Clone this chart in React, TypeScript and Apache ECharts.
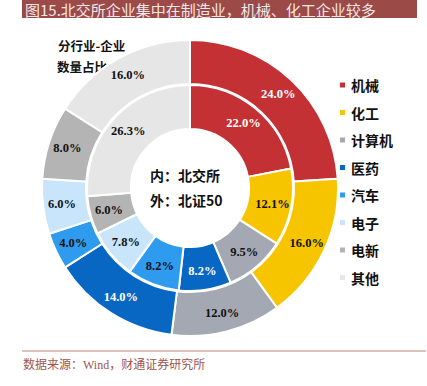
import React, { useEffect, useRef } from "react";
import * as echarts from "echarts";

const categories = ["机械", "化工", "计算机", "医药", "汽车", "电子", "电新", "其他"];
const outerValues = [24.0, 16.0, 12.0, 14.0, 4.0, 6.0, 8.0, 16.0];
const innerValues = [22.0, 12.1, 9.5, 8.2, 8.2, 7.8, 6.0, 26.3];
const colors = ["#C43134", "#F7C400", "#A4A8B2", "#0867C3", "#2E9BEF", "#C9E5FC", "#B4B4B4", "#E6E6E6"];
const whiteLabel = ["机械", "医药"];

const titleText = "图15.北交所企业集中在制造业，机械、化工企业较多";
const sourceText = "数据来源：Wind，财通证券研究所";

export default function App() {
  const ref = useRef<HTMLDivElement>(null);
  useEffect(() => {
    if (!ref.current) return;
    const chart = echarts.init(ref.current, null, { renderer: "svg" });
    const mk = (vals: number[]) =>
      categories.map((name, i) => ({
        name,
        value: vals[i],
        itemStyle: { color: colors[i] },
        label: { color: whiteLabel.includes(name) ? "#ffffff" : "#111111" },
      }));
    const labelCommon = {
      show: true,
      position: "inside",
      fontFamily: "Liberation Serif",
      fontWeight: "bold",
      fontSize: 12.5,
      formatter: (p: any) => Number(p.value).toFixed(1) + "%",
    };
    chart.setOption({
      animation: false,
      legend: {
        orient: "vertical",
        left: 333,
        top: 73,
        icon: "rect",
        itemWidth: 7,
        itemHeight: 7,
        itemGap: 13.5,
        selectedMode: false,
        data: categories,
        textStyle: {
          fontFamily: "Noto Sans CJK SC",
          fontWeight: "bold",
          fontSize: 14,
          lineHeight: 14,
          color: "#111111",
        },
      },
      series: [
        {
          name: "北交所",
          type: "pie",
          center: [190, 188],
          radius: [59, 103],
          startAngle: 90,
          clockwise: true,
          avoidLabelOverlap: false,
          silent: true,
          itemStyle: { borderColor: "#ffffff", borderWidth: 2 },
          label: labelCommon,
          labelLine: { show: false },
          data: mk(innerValues),
        },
        {
          name: "北证50",
          type: "pie",
          center: [190, 188],
          radius: [104, 148],
          startAngle: 90,
          clockwise: true,
          avoidLabelOverlap: false,
          silent: true,
          itemStyle: { borderColor: "#ffffff", borderWidth: 2 },
          label: labelCommon,
          labelLine: { show: false },
          data: mk(outerValues),
        },
      ],
      graphic: [
        { type: "rect", shape: { x: 22, y: 0, width: 395, height: 18 }, style: { fill: "#9C4A47" } },
        {
          type: "text",
          x: 25,
          y: 2,
          style: {
            text: titleText,
            fill: "#F3E8E8",
            fontFamily: "Noto Sans CJK SC",
            fontSize: 15,
            lineHeight: 15,
            textVerticalAlign: "top",
          },
        },
        {
          type: "text",
          x: 58,
          y: 45,
          style: { text: "分行业-企业", fill: "#111", fontFamily: "Noto Sans CJK SC", fontWeight: "bold", fontSize: 12.5, textVerticalAlign: "middle" },
        },
        {
          type: "text",
          x: 57,
          y: 66,
          style: { text: "数量占比", fill: "#111", fontFamily: "Noto Sans CJK SC", fontWeight: "bold", fontSize: 12.5, textVerticalAlign: "middle" },
        },
        {
          type: "text",
          x: 150,
          y: 175,
          style: { text: "内：北交所", fill: "#111", fontFamily: "Noto Sans CJK SC", fontWeight: "bold", fontSize: 14, textVerticalAlign: "middle" },
        },
        {
          type: "text",
          x: 150,
          y: 200,
          style: { text: "外：北证50", fill: "#111", fontFamily: "Noto Sans CJK SC", fontWeight: "bold", fontSize: 14, textVerticalAlign: "middle" },
        },
        {
          type: "line",
          shape: { x1: 22, y1: 351, x2: 426, y2: 351 },
          style: { stroke: "#D6ABA9", lineWidth: 1.5 },
        },
        {
          type: "text",
          x: 23,
          y: 365,
          style: { text: sourceText, fill: "#9C5552", fontFamily: "Liberation Serif, Noto Sans CJK SC", fontSize: 12, textVerticalAlign: "middle" },
        },
      ],
    });
    return () => chart.dispose();
  }, []);
  return (
    <div
      ref={ref}
      style={{ position: "fixed", left: 0, top: 0, width: 427, height: 386, background: "#ffffff" }}
    />
  );
}
